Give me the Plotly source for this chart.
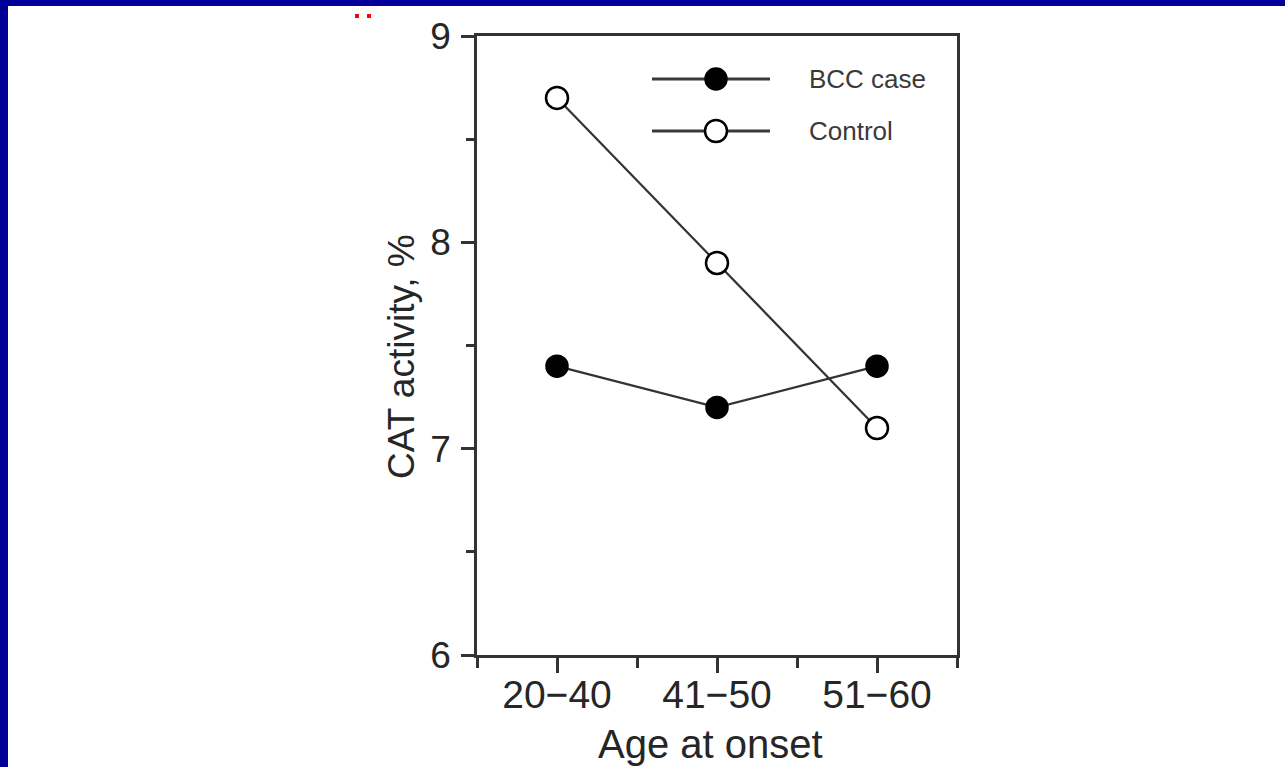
import plotly.graph_objects as go

# Age groups at onset and mean CAT activity (%) per group
age_groups = ["20\u221240", "41\u221250", "51\u221260"]
bcc_case = [7.4, 7.2, 7.4]
control = [8.7, 7.9, 7.1]

y_ticks = [6, 7, 8, 9]

W, H = 1285, 767
M_L, M_R, M_T, M_B = 477, 328, 36, 112
PW, PH = W - M_L - M_R, H - M_T - M_B

FONT = "Liberation Sans, Arial, sans-serif"
INK = "#262626"
LINE = "#333333"
FRAME_BLUE = "#000099"


def px_x(px):
    """Pixel column -> paper x."""
    return (px - M_L) / PW


def px_y(py):
    """Pixel row (from top) -> paper y."""
    return (H - M_B - py) / PH


xpos = list(range(len(age_groups)))

fig = go.Figure()

fig.add_trace(go.Scatter(
    x=xpos, y=bcc_case, name="BCC case", mode="lines+markers",
    line=dict(color=LINE, width=2.2),
    marker=dict(symbol="circle", size=22, color="black",
                line=dict(color="black", width=1.5)),
    showlegend=False, cliponaxis=False,
))
fig.add_trace(go.Scatter(
    x=xpos, y=control, name="Control", mode="lines+markers",
    line=dict(color=LINE, width=2.2),
    marker=dict(symbol="circle", size=22, color="white",
                line=dict(color="black", width=2.5)),
    showlegend=False, cliponaxis=False,
))

shapes = []
annotations = []

# Blue slide frame along the top and left edges
shapes.append(dict(type="rect", xref="paper", yref="paper",
                   x0=px_x(0), x1=px_x(W), y0=px_y(6), y1=px_y(0),
                   fillcolor=FRAME_BLUE, line=dict(width=0), layer="below"))
shapes.append(dict(type="rect", xref="paper", yref="paper",
                   x0=px_x(0), x1=px_x(8), y0=px_y(H + 40), y1=px_y(0),
                   fillcolor=FRAME_BLUE, line=dict(width=0), layer="below"))

# Two small red specks near the top
for cx in (357, 369):
    shapes.append(dict(type="rect", xref="paper", yref="paper",
                       x0=px_x(cx - 2), x1=px_x(cx + 2),
                       y0=px_y(18), y1=px_y(14),
                       fillcolor="#ff0000", line=dict(width=0)))

# Hand-drawn legend: line sample, marker, label
legend_rows = [
    ("BCC case", 79, "black", 1.5),
    ("Control", 131, "white", 2.5),
]
for label, row_y, fill, edge_w in legend_rows:
    shapes.append(dict(type="line", xref="paper", yref="paper",
                       x0=px_x(652), x1=px_x(770), y0=px_y(row_y), y1=px_y(row_y),
                       line=dict(color="#3a3a3a", width=3)))
    shapes.append(dict(type="circle", xref="paper", yref="paper",
                       xsizemode="pixel", ysizemode="pixel",
                       xanchor=px_x(716), yanchor=px_y(row_y),
                       x0=-11, x1=11, y0=-11, y1=11,
                       fillcolor=fill, line=dict(color="black", width=edge_w)))
    annotations.append(dict(text=label, xref="paper", yref="paper",
                            x=px_x(807), y=px_y(row_y), xanchor="left", yanchor="middle",
                            showarrow=False,
                            font=dict(family=FONT, size=26, color="#3a3a3a")))

# Axis titles
annotations.append(dict(text="Age at onset", xref="paper", yref="paper",
                        x=px_x(710), y=px_y(744), xanchor="center", yanchor="middle",
                        showarrow=False,
                        font=dict(family=FONT, size=40, color=INK)))
annotations.append(dict(text="CAT activity, %", xref="paper", yref="paper",
                        x=px_x(401), y=px_y(357), xanchor="center", yanchor="middle",
                        textangle=-90, showarrow=False,
                        font=dict(family=FONT, size=37, color=INK)))

fig.update_layout(
    width=W, height=H,
    margin=dict(l=M_L, r=M_R, t=M_T, b=M_B),
    paper_bgcolor="white", plot_bgcolor="white",
    font=dict(family=FONT, color=INK),
    shapes=shapes, annotations=annotations,
    showlegend=False,
)

fig.update_xaxes(
    range=[-0.5, 2.5],
    tickvals=xpos, ticktext=age_groups,
    ticks="outside", ticklen=15, tickwidth=2.5, tickcolor=LINE,
    minor=dict(tickvals=[-0.5, 0.5, 1.5, 2.5], ticks="outside",
               ticklen=10, tickwidth=2.5, tickcolor=LINE, showgrid=False),
    showline=True, linecolor=LINE, linewidth=2.5, mirror=True,
    showgrid=False, zeroline=False,
    ticklabelstandoff=-12,
    tickfont=dict(family=FONT, size=39, color=INK),
)

fig.update_yaxes(
    range=[6, 9],
    tickvals=y_ticks,
    ticks="outside", ticklen=13, tickwidth=2.5, tickcolor=LINE,
    minor=dict(tickvals=[6.5, 7.5, 8.5], ticks="outside",
               ticklen=8, tickwidth=2.5, tickcolor=LINE, showgrid=False),
    showline=True, linecolor=LINE, linewidth=2.5, mirror=True,
    showgrid=False, zeroline=False,
    ticklabelstandoff=3,
    tickfont=dict(family=FONT, size=37, color=INK),
)

fig.write_html("out.html")
